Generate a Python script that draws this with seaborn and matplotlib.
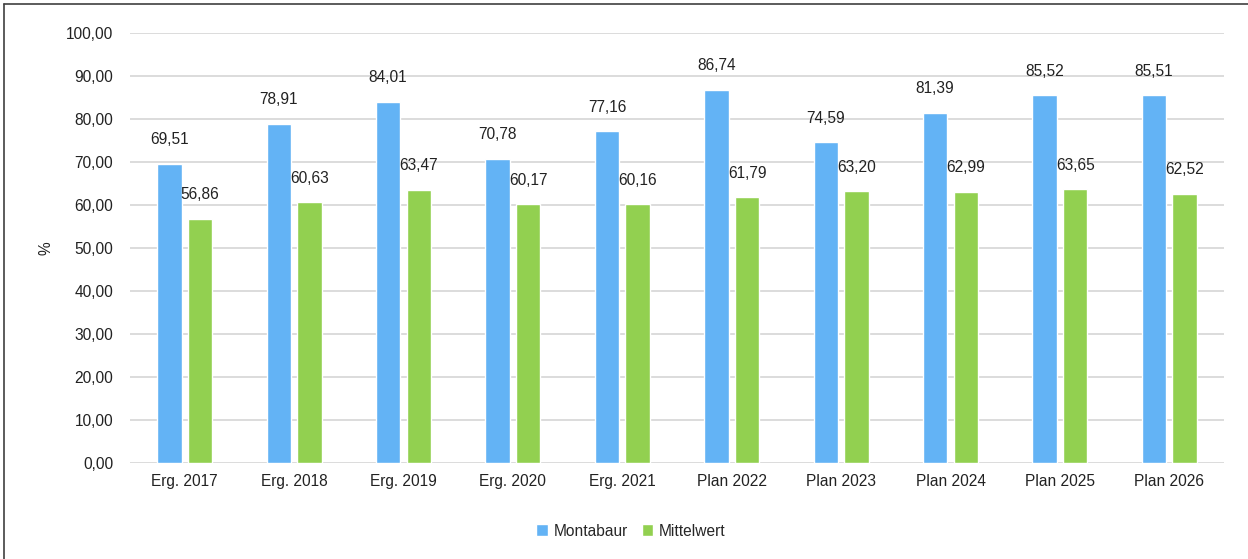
import pandas as pd
import matplotlib.pyplot as plt
import seaborn as sns
from matplotlib.lines import Line2D

categories = ['Erg. 2017', 'Erg. 2018', 'Erg. 2019', 'Erg. 2020', 'Erg. 2021',
              'Plan 2022', 'Plan 2023', 'Plan 2024', 'Plan 2025', 'Plan 2026']
montabaur = [69.51, 78.91, 84.01, 70.78, 77.16, 86.74, 74.59, 81.39, 85.52, 85.51]
mittelwert = [56.86, 60.63, 63.47, 60.17, 60.16, 61.79, 63.20, 62.99, 63.65, 62.52]
series_names = ['Montabaur', 'Mittelwert']
colors = ['#63B3F5', '#92D050']

df = pd.DataFrame({
    'Jahr': categories * 2,
    'Wert': montabaur + mittelwert,
    'Reihe': [series_names[0]] * len(categories) + [series_names[1]] * len(categories),
})

sns.set_theme(style='white')
plt.rcParams['font.family'] = ['Liberation Sans', 'DejaVu Sans']
fs = 11.2

fig = plt.figure(figsize=(12.48, 5.59), dpi=100)
ax = fig.add_axes([130 / 1248, 1 - 463 / 559, (1224 - 130) / 1248, (463 - 33) / 559])

sns.barplot(data=df, x='Jahr', y='Wert', hue='Reihe', palette=colors,
            width=0.56, gap=0.2, saturation=1, ax=ax, legend=True)

def fmt(v):
    return f'{v:.2f}'.replace('.', ',')

for cont in ax.containers:
    ax.bar_label(cont, labels=[fmt(b.get_height()) for b in cont],
                 padding=12, fontsize=fs, color='#222222')

ax.set_ylim(0, 100)
ax.set_yticks(range(0, 101, 10))
ax.set_yticklabels([fmt(v) for v in range(0, 101, 10)], fontsize=fs, color='#222222')
ax.tick_params(axis='x', labelsize=fs, colors='#222222', length=0, pad=8)
ax.tick_params(axis='y', length=0, pad=12)
ax.yaxis.grid(True, color='#D9D9D9', linewidth=1.3)
ax.set_axisbelow(True)
for s in ax.spines.values():
    s.set_visible(False)
ax.set_xlabel('')
ax.set_ylabel('%', fontsize=fs, color='#222222', labelpad=9)

handles, labels = ax.get_legend_handles_labels()
ax.get_legend().remove()
fig.legend(handles, labels, loc='center', bbox_to_anchor=(631 / 1248, 1 - 531 / 559), ncol=2,
           frameon=False, fontsize=fs, handlelength=0.75, handleheight=0.75,
           handletextpad=0.35, columnspacing=0.9)

fig.add_artist(Line2D([4 / 1248, 4 / 1248], [0, 1 - 4 / 559], color='#404040', lw=1.2))
fig.add_artist(Line2D([4 / 1248, 1], [1 - 4 / 559, 1 - 4 / 559], color='#404040', lw=1.2))

fig.savefig('out.png', dpi=100, facecolor='white')
